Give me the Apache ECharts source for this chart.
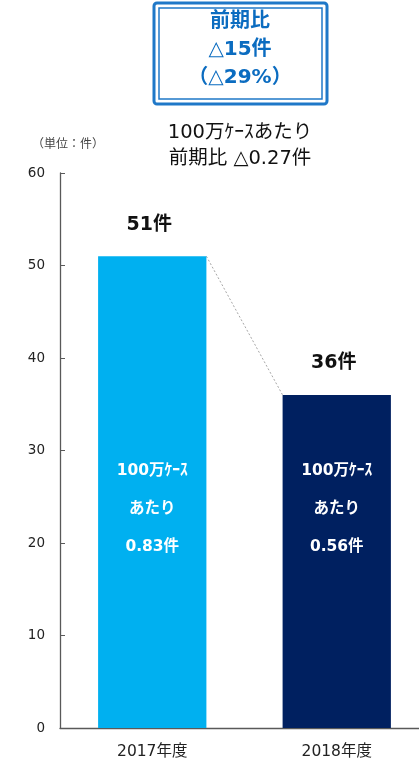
<!DOCTYPE html>
<html>
<head>
<meta charset="utf-8">
<script src="https://cdn.jsdelivr.net/npm/echarts@6/dist/echarts.min.js"></script>
<style>
  html, body { margin: 0; padding: 0; background: #fff; }
  #chart { width: 419px; height: 771px; }
</style>
</head>
<body>
<div id="chart"></div>
<script>
// Fiscal-year categories and incident counts
const years = ['2017年度', '2018年度'];
const counts = [51, 36];
const perMillionCases = [0.83, 0.56];
const barColors = ['#00b0f0', '#002060'];
const yTicks = { min: 0, max: 60, interval: 10 };

// Summary texts
const boxLines = ['前期比', '△15件', '（△29%）'];
const subtitleLines = ['100万ｹｰｽあたり', '前期比 △0.27件'];
const unitLabel = '（単位：件）';

const FONT = '"DejaVu Sans", "Noto Sans CJK JP", sans-serif';
const chart = echarts.init(document.getElementById('chart'));
const BAR_RATIO = 0.587;

chart.setOption({
  animation: false,
  textStyle: { fontFamily: FONT },
  // plot area runs slightly past the right edge of the canvas
  grid: { left: 60, width: 369, top: 173, bottom: 43, containLabel: false, outerBoundsMode: 'none' },
  xAxis: {
    type: 'category',
    data: years,
    axisLine: { lineStyle: { color: '#595959', width: 1.3 } },
    axisTick: { inside: true, length: 6, lineStyle: { color: '#595959' } },
    axisLabel: { color: '#222', fontSize: 15.5, margin: 16, fontFamily: FONT }
  },
  yAxis: {
    type: 'value',
    min: yTicks.min, max: yTicks.max, interval: yTicks.interval,
    splitLine: { show: false },
    axisLine: { show: true, lineStyle: { color: '#595959', width: 1.3 } },
    axisTick: { show: true, inside: true, length: 5, lineStyle: { color: '#595959' } },
    axisLabel: { color: '#222', fontSize: 13.5, margin: 15, fontFamily: FONT }
  },
  graphic: [
    { type: 'rect', shape: { x: 154, y: 3, width: 173, height: 101, r: 3 },
      style: { fill: '#fff', stroke: '#1f78c8', lineWidth: 3 } },
    { type: 'rect', shape: { x: 159, y: 8, width: 163, height: 91 },
      style: { fill: 'none', stroke: '#1f78c8', lineWidth: 1.5 } },
    { type: 'text', x: 240, y: 8,
      style: { text: boxLines.join('\n'), fill: '#0b6cc0', font: 'bold 20px ' + FONT,
               lineHeight: 28, align: 'center' } },
    { type: 'text', x: 240, y: 120,
      style: { text: subtitleLines.join('\n'), fill: '#111', font: '19.5px ' + FONT,
               lineHeight: 26, align: 'center' } },
    { type: 'text', x: 32, y: 139,
      style: { text: unitLabel, fill: '#444', font: '12px ' + FONT } }
  ],
  series: [
    {
      type: 'bar',
      barWidth: (BAR_RATIO * 100) + '%',
      data: counts.map((v, i) => ({ value: v, itemStyle: { color: barColors[i] } })),
      label: {
        show: true, position: 'top', distance: 22, offset: [-3, 0],
        formatter: p => p.value + '件',
        color: '#111', fontSize: 19, fontWeight: 'bold', fontFamily: FONT
      },
      z: 2
    },
    {
      // per-million-case annotation drawn inside each bar
      type: 'bar',
      barWidth: (BAR_RATIO * 100) + '%',
      barGap: '-100%',
      data: counts.map((v, i) => ({ value: v, rate: perMillionCases[i] })),
      itemStyle: { color: 'rgba(0,0,0,0)' },
      label: {
        show: true, position: 'insideBottom', distance: 162,
        formatter: p => '100万ｹｰｽ\nあたり\n' + perMillionCases[p.dataIndex].toFixed(2) + '件',
        color: '#fff', fontSize: 15.5, fontWeight: 'bold', lineHeight: 38, fontFamily: FONT
      },
      z: 3
    },
    {
      // dotted connector between the tops of the two bars
      type: 'custom',
      data: [[0, counts[0], 1, counts[1]]],
      renderItem: (params, api) => {
        const a = api.coord([api.value(0), api.value(1)]);
        const b = api.coord([api.value(2), api.value(3)]);
        const half = api.size([1, 0])[0] * BAR_RATIO / 2;
        return {
          type: 'line',
          shape: { x1: a[0] + half, y1: a[1], x2: b[0] - half, y2: b[1] },
          style: { stroke: '#a6a6a6', lineWidth: 1, lineDash: [2, 2] }
        };
      },
      z: 1
    }
  ]
});
</script>
</body>
</html>
